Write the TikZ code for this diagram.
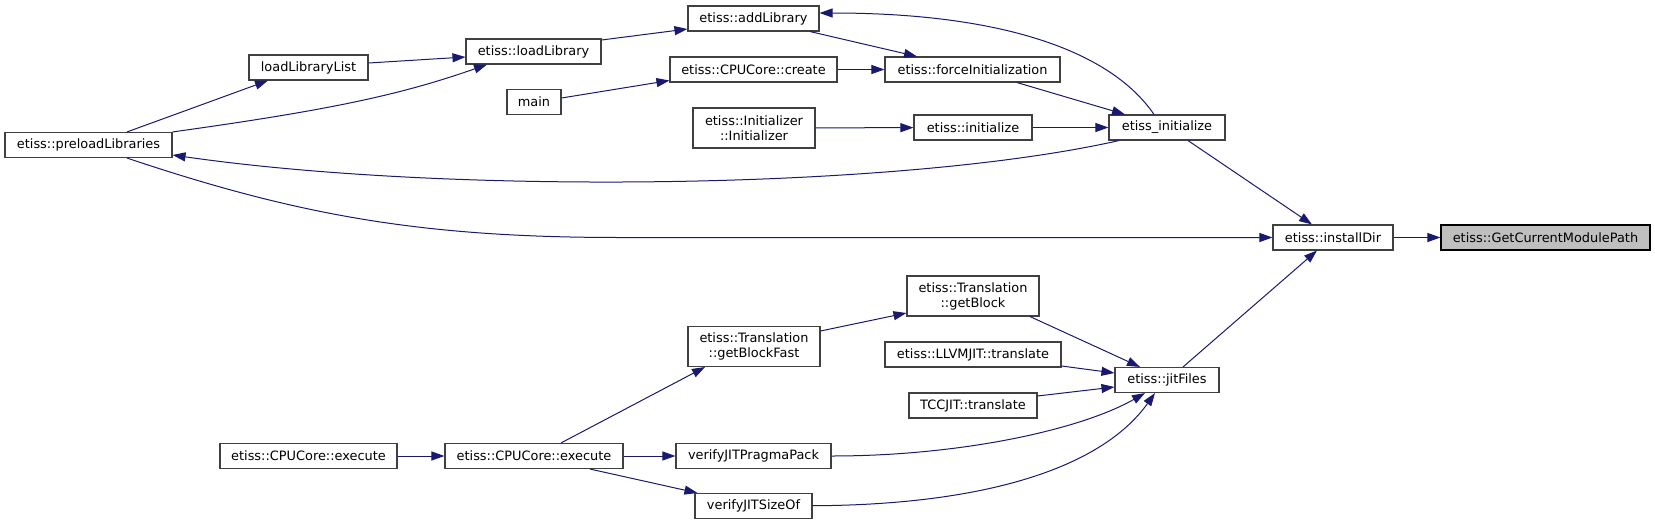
\documentclass[tikz,border=0pt]{standalone}
\usepackage{fontspec}
\setmainfont{DejaVu Sans}
\usetikzlibrary{arrows.meta}
\definecolor{midnight}{HTML}{191970}
\definecolor{boxline}{HTML}{404040}
\definecolor{rootfill}{HTML}{BFBFBF}

\begin{document}
\begin{tikzpicture}[x=1pt,y=-1pt,>={Triangle[length=13pt,width=9pt]},
    fn/.style={draw=boxline,line width=1.1pt,fill=white,inner sep=0pt,minimum height=25pt,align=center,font=\fontsize{12.9}{15}\selectfont},
    fn2/.style={fn,minimum height=40pt},
    call/.style={->,draw=midnight,line width=1pt}]
  \useasboundingbox (0,0) rectangle (1655,525);
  % ranks from right to left
  \node[fn,fill=rootfill,draw=black,minimum width=209pt] (gcmp) at (1545.5,237.5) {etiss::GetCurrentModulePath};
  \node[fn,minimum width=120pt] (instdir) at (1333,237.5) {etiss::installDir};
  \node[fn,minimum width=116pt] (einit) at (1167,127.5) {etiss\_initialize};
  \node[fn,minimum width=104pt] (jitf) at (1167,380) {etiss::jitFiles};
  \node[fn,minimum width=175pt] (finit) at (972.5,69.5) {etiss::forceInitialization};
  \node[fn,minimum width=118pt] (init) at (973,127.5) {etiss::initialize};
  \node[fn2,minimum width=132pt] (getblk) at (973,296) {etiss::Translation\\::getBlock};
  \node[fn,minimum width=176pt] (llvm) at (973,354.5) {etiss::LLVMJIT::translate};
  \node[fn,minimum width=128pt] (tcc) at (973,405.5) {TCCJIT::translate};
  \node[fn,minimum width=131pt] (addlib) at (753.5,18.5) {etiss::addLibrary};
  \node[fn,minimum width=167pt] (create) at (753.5,69.5) {etiss::CPUCore::create};
  \node[fn2,minimum width=122pt] (initr) at (754,128) {etiss::Initializer\\::Initializer};
  \node[fn2,minimum width=132pt] (gbfast) at (754,346.5) {etiss::Translation\\::getBlockFast};
  \node[fn,minimum width=155pt] (pragma) at (753.5,456) {verifyJITPragmaPack};
  \node[fn,minimum width=117pt] (sizeof) at (753.5,506) {verifyJITSizeOf};
  \node[fn,minimum width=135pt] (loadlib) at (533.5,51.5) {etiss::loadLibrary};
  \node[fn,minimum width=54pt] (main) at (534,102) {main};
  \node[fn,minimum width=178pt] (exec2) at (534,456) {etiss::CPUCore::execute};
  \node[fn,minimum width=119pt] (llist) at (308.5,67.5) {loadLibraryList};
  \node[fn,minimum width=177pt] (exec1) at (308.5,456) {etiss::CPUCore::execute};
  \node[fn,minimum width=167pt] (preload) at (88.5,145) {etiss::preloadLibraries};
  % calls
  \draw[call] (instdir) -- (gcmp);
  \draw[call] ([xshift=21pt]einit.south) -- ([xshift=-21pt]instdir.north);
  \draw[call] ([xshift=38.5pt]preload.south) .. controls (297,215) and (420,237.5) .. (620,237.5) -- (instdir);
  \draw[call] ([xshift=16pt]jitf.north) -- ([xshift=-16pt]instdir.south);
  \draw[call] ([xshift=44.5pt]finit.south) -- ([xshift=-42pt]einit.north);
  \draw[call] (init) -- (einit);
  \draw[call] ([xshift=-13pt]einit.north) .. controls (1110,50) and (1000,13) .. ([yshift=5.5pt]addlib.east);
  \draw[call] ([xshift=-48pt]einit.south) .. controls (900,190) and (450,195) .. ([yshift=-10pt]preload.east);
  \draw[call] ([xshift=56.5pt]addlib.south) -- ([xshift=-55.5pt]finit.north);
  \draw[call] ([yshift=11.5pt]loadlib.east) -- ([yshift=-10.5pt]addlib.west);
  \draw[call] ([yshift=4.5pt]llist.east) -- ([yshift=-5.5pt]loadlib.west);
  \draw[call] ([xshift=38.5pt]preload.north) -- ([xshift=-40.5pt]llist.south);
  \draw[call] (preload.north east) .. controls (330,110) and (400,95) .. ([xshift=-46.5pt]loadlib.south);
  \draw[call] ([yshift=4pt]main.east) -- ([yshift=-11pt]create.west);
  \draw[call] (create) -- (finit);
  \draw[call] (initr) -- (init);
  \draw[call] ([xshift=57pt]getblk.south) -- ([xshift=-27pt]jitf.north);
  \draw[call] ([yshift=-11.5pt]llvm.east) -- ([yshift=7pt]jitf.west);
  \draw[call] ([yshift=9.5pt]tcc.east) -- ([yshift=-7pt]jitf.west);
  \draw[call] (pragma) .. controls (960,456) and (1080,430) .. ([xshift=-22pt]jitf.south);
  \draw[call] (sizeof) .. controls (980,505) and (1100,470) .. ([xshift=-12pt]jitf.south);
  \draw[call] ([yshift=15.5pt]gbfast.east) -- ([yshift=-17pt]getblk.west);
  \draw[call] ([xshift=27pt]exec2.north) -- ([xshift=-49pt]gbfast.south);
  \draw[call] (exec2) -- (pragma);
  \draw[call] ([xshift=56pt]exec2.south) -- ([xshift=3pt]sizeof.north west);
  \draw[call] (exec1) -- (exec2);
\end{tikzpicture}
\end{document}
